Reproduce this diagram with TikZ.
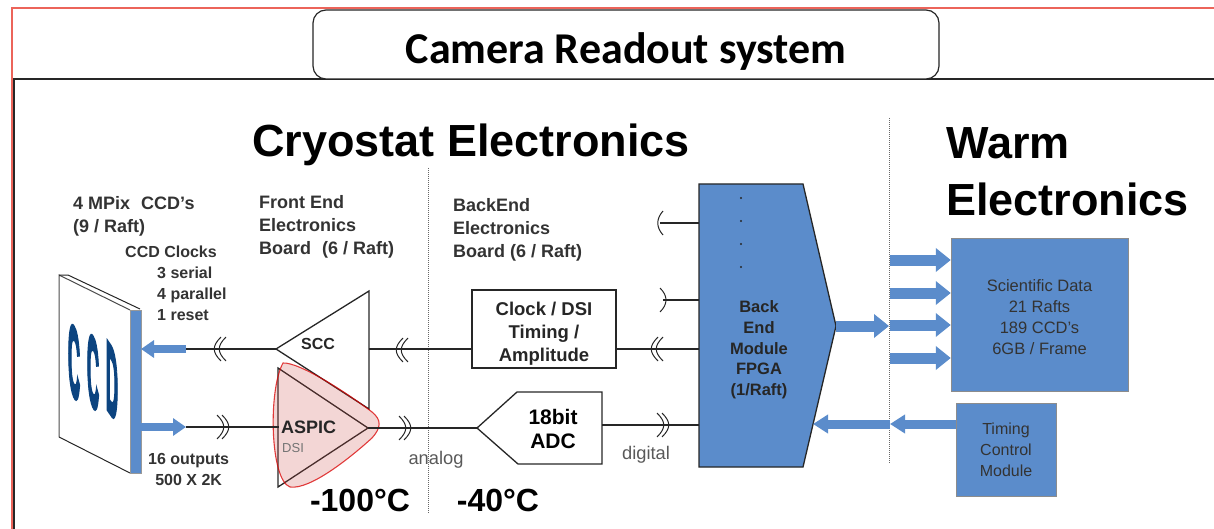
\documentclass[tikz,border=0pt]{standalone}
\usepackage{fontspec}
\setmainfont{Liberation Sans}
\newfontfamily\titlefont{Carlito}
\newfontfamily\ccdfont[FakeBold=5]{Liberation Sans Bold}
\usetikzlibrary{arrows.meta}
\definecolor{modblue}{RGB}{91,140,203}
\definecolor{framered}{RGB}{236,100,90}
\definecolor{ccdblue}{RGB}{12,68,128}
\definecolor{aspicred}{RGB}{200,70,65}
\tikzset{
	wire/.style={
		line width = 1.3pt,
		draw = black!85
	},
	fatarrow/.style={
		draw = modblue,
		line width = 11pt,
		-{Triangle[width=23pt,length=15pt]}
	},
	midarrow/.style={
		draw = modblue,
		line width = 9pt,
		-{Triangle[width=18pt,length=15pt]}
	},
	ccdarrow/.style={
		draw = modblue,
		line width = 7.5pt,
		-{Triangle[width=17pt,length=13pt]}
	},
	whitebox/.style={
		shape = rectangle,
		draw = black!85,
		line width = 1.3pt,
		fill = white,
		inner sep = 0pt,
		align = center
	},
	bluebox/.style={
		shape = rectangle,
		draw = black!45,
		fill = modblue,
		inner sep = 0pt,
		align = center,
		text = black!80
	},
	smalltext/.style={
		font = \fontsize{16}{21}\bfseries\selectfont,
		align = left,
		inner sep = 0pt,
		text = black!80
	},
	boardtext/.style={
		font = \fontsize{18}{23}\bfseries\selectfont,
		align = left,
		inner sep = 0pt,
		text = black!80
	},
	greytext/.style={
		font = \fontsize{18.3}{21}\selectfont,
		inner sep = 0pt,
		text = black!65
	},
	bigtext/.style={
		font = \fontsize{45}{57}\bfseries\selectfont,
		align = left,
		inner sep = 0pt
	},
	temptext/.style={
		font = \fontsize{32}{33}\bfseries\selectfont,
		inner sep = 0pt
	},
	sepline/.style={
		densely dotted,
		line width = 1pt,
		draw = black!60
	},
	dotmark/.style={
		inner sep = 0.8pt,
		shape = circle,
		fill = black!85
	},
	pics/lbreak/.style={
		code={
			\draw[wire, line width=1pt] (4,-12) .. controls (-5,-3) and (-5,3) .. (4,12);
			\draw[wire, line width=1pt] (9,-12) .. controls (0,-3) and (0,3) .. (9,12);
		}
	},
	pics/rbreak/.style={
		code={
			\draw[wire, line width=1pt] (-4,-12) .. controls (5,-3) and (5,3) .. (-4,12);
			\draw[wire, line width=1pt] (-9,-12) .. controls (0,-3) and (0,3) .. (-9,12);
		}
	},
}

\begin{document}
\begin{tikzpicture}[x=1pt, y=-1pt]
    \useasboundingbox (0,0) rectangle (1214,529);
    % page frame
    \draw[framered, line width=1.5pt] (12,529) -- (12,8) -- (1214,8);
    \draw[black!85, line width=1.5pt] (14,529) -- (14,79) -- (1214,79);
    \node[draw=black!85, line width=1.2pt, fill=white, rounded corners=13pt, minimum width=626pt, minimum height=69pt, inner sep=0pt] (titlebox) at (626,44.5) {};
    \node[font=\fontsize{44}{46}\titlefont\bfseries\selectfont, inner sep=0pt] (titletext) at (626,51.5) {Camera Readout system};

    % headings
    \node[bigtext, anchor=west] (cryo) at (252,145) {Cryostat Electronics};
    \node[bigtext, anchor=north west] (warm) at (946,127) {Warm\\Electronics};
    \coordinate (sepaa) at (428,168);
    \coordinate (sepab) at (428,513);
    \coordinate (sepba) at (889,118);
    \coordinate (sepbb) at (889,463);
    \draw[sepline] (sepaa) -- (sepab);
    \draw[sepline] (sepba) -- (sepbb);

    % CCD plate
    \fill[white] (59,275) -- (68,275) -- (140,309) -- (140,473) -- (130,473) -- (59,437) -- cycle;
    \draw[black!70, line width=1pt] (59,437) -- (59,275) -- (130,310);
    \draw[black!85, line width=1pt] (59,437) -- (130,473);
    \draw[black!85, line width=1pt] (59,275) -- (68,275) -- (140,309);
    \fill[modblue] (130,310) rectangle (141,473);
    \draw[black!40] (130,310) rectangle (141,473);
    \foreach \x/\y/\l in {74/362/C, 93/372/C, 112/382/D}{
      \node[font=\fontsize{98}{98}\ccdfont\selectfont, text=ccdblue, inner sep=0pt, transform shape, xscale=0.17, yslant=-0.25] (ccd\l\x) at (\x,\y) {\l};
    }

    % amplifiers and boards
    \coordinate (sccapex) at (276,349);
    \coordinate (sccout) at (369,349);
    \coordinate (aspicin) at (279,427);
    \coordinate (aspicapex) at (368,428);
    \coordinate (adcapex) at (477,428);
    \coordinate (adcout) at (602,425);
    \coordinate (femtop) at (699,223);
    \coordinate (femmid) at (699,300);
    \coordinate (femclk) at (699,349);
    \coordinate (femadc) at (699,425);
    \coordinate (femout) at (836,326);
    \coordinate (femin) at (813,424);
    \coordinate (stubtop) at (660,223);
    \coordinate (stubmid) at (663,300);
    \coordinate (ccdclk) at (186,349);
    \coordinate (ccdclkend) at (141,349);
    \coordinate (ccdout) at (186,427);
    \coordinate (ccdoutstart) at (141,427);
    \coordinate (septop) at (889,326);
    \coordinate (septim) at (890,424);

    \draw[wire] (sccapex) -- (369,291) -- (369,409) -- cycle;
    \node[font=\fontsize{16}{20}\bfseries\selectfont, inner sep=0pt, text=black!85] (scc) at (318,344) {SCC};
    \draw[wire] (278,368) -- (278,487) -- (aspicapex) -- cycle;
    \draw[draw=red!85!black, draw opacity=0.75, fill=aspicred, fill opacity=0.22, line width=1.1pt]
      (283,363) .. controls (300,362) and (350,395) .. (372,412) .. controls (382,420) and (381,428) .. (372,438)
      .. controls (350,458) and (310,490) .. (290,487) .. controls (270,480) and (268,390) .. (283,363) -- cycle;
    \node[font=\fontsize{18}{20}\bfseries\selectfont, inner sep=0pt, anchor=west, text=black!85] (aspic) at (281,427) {ASPIC};
    \node[font=\fontsize{13}{15}\selectfont, inner sep=0pt, anchor=west, text=black!55] (dsi) at (282,448) {DSI};

    \node[whitebox, minimum width=144pt, minimum height=78pt] (clockbox) at (544,329) {};
    \node[font=\fontsize{18.5}{23}\bfseries\selectfont, align=center, inner sep=0pt, text=black!85] (clocktext) at (544,333.5) {Clock / DSI\\Timing /\\Amplitude};
    \draw[wire] (adcapex) -- (517,392) -- (602,392) -- (602,464) -- (518,464) -- cycle;
    \node[font=\fontsize{21}{24}\bfseries\selectfont, align=center, inner sep=0pt] (adc) at (553,429) {18bit\\ADC};

    % back end module
    \draw[black!85, line width=1.3pt, fill=modblue] (699,184) -- (803,184) -- (femout) -- (803,467) -- (699,467) -- cycle;
    \node[font=\fontsize{16.5}{20.7}\bfseries\selectfont, align=center, inner sep=0pt, text=black!85] (fpga) at (759,350) {Back\\End\\Module\\FPGA\\(1/Raft)};
    \foreach \y in {198,221,244,267}{
      \node[dotmark] (fpgadot\y) at (741,\y) {};
    }

    % signal lines
    \draw[wire] (ccdclk) -- (sccapex);
    \draw[wire] (ccdout) -- (aspicin);
    \draw[wire] (sccout) -- (clockbox.west |- sccout);
    \draw[wire] (aspicapex) -- (adcapex);
    \draw[wire] (clockbox.east |- femclk) -- (femclk);
    \draw[wire] (adcout) -- (femadc);
    \draw[wire] (stubtop) -- (femtop);
    \draw[wire] (stubmid) -- (femmid);
    \pic at (217,349) {lbreak};
    \pic at (399,350) {lbreak};
    \pic at (654,349) {lbreak};
    \pic at (226,427) {rbreak};
    \pic at (408,428) {rbreak};
    \pic at (666,425) {rbreak};
    \draw[wire, line width=1pt] (663,211) .. controls (656,219) and (656,227) .. (663,235);
    \draw[wire, line width=1pt] (660,288) .. controls (668,296) and (668,304) .. (660,312);

    % fat arrows
    \draw[ccdarrow] (ccdclk) -- (ccdclkend);
    \draw[ccdarrow] (ccdoutstart) -- (ccdout);
    \draw[fatarrow] (femout) -- (septop);

    % warm side
    \node[bluebox, minimum width=177pt, minimum height=153pt] (scibox) at (1039.5,314.5) {};
    \node[font=\fontsize{16.5}{21}\selectfont, align=center, inner sep=0pt, text=black!80] (scitext) at (1039.5,317.5) {Scientific Data\\21 Rafts\\189 CCD's\\6GB / Frame};
    \node[bluebox, minimum width=100pt, minimum height=93pt, font=\fontsize{16}{21}\selectfont] (timingbox) at (1006,449.5) {Timing\\Control\\Module};
    \foreach \y in {260,293,325,358}{
      \coordinate (scia\y) at (890,\y);
      \draw[fatarrow] (scia\y) -- (scibox.west |- scia\y);
    }
    \draw[midarrow] (timingbox.west |- septim) -- (septim);
    \draw[midarrow] (septim) -- (femin);

    % labels
    \node[boardtext, anchor=north west] (ccdlabel) at (73,196) {4 MPix\,\, CCD's\\(9 / Raft)};
    \node[smalltext, anchor=north west] (clocklabel) at (125,246) {CCD Clocks\\\hspace{32pt}3 serial\\\hspace{32pt}4 parallel\\\hspace{32pt}1 reset};
    \node[boardtext, anchor=north west] (felabel) at (259,195) {Front End\\Electronics\\Board\,\, (6 / Raft)};
    \node[boardtext, anchor=north west] (belabel) at (453,198) {BackEnd\\Electronics\\Board (6 / Raft)};
    \node[smalltext, anchor=north west, align=center] (outlabel) at (148,453) {16 outputs\\500 X 2K};
    \node[greytext] (analog) at (436,460) {analog};
    \node[greytext] (digital) at (646,455) {digital};
    \node[temptext] (tempcold) at (360,500) {-100°C};
    \node[temptext] (tempwarm) at (498,500) {-40°C};
  \end{tikzpicture}
\end{document}
